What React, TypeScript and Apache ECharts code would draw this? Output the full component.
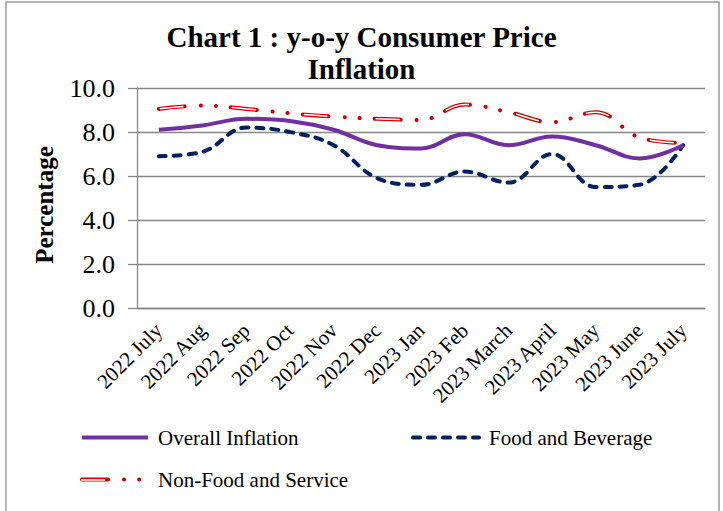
import React, { useEffect, useRef } from 'react';
import * as echarts from 'echarts';

const categories = ['2022 July', '2022 Aug', '2022 Sep', '2022 Oct', '2022 Nov', '2022 Dec', '2023 Jan', '2023 Feb', '2023 March', '2023 April', '2023 May', '2023 June', '2023 July'];
const overallInflation = [8.1, 8.3, 8.6, 8.5, 8.1, 7.4, 7.25, 7.9, 7.4, 7.8, 7.4, 6.8, 7.4];
const foodAndBeverage = [6.9, 7.1, 8.2, 8.0, 7.4, 5.9, 5.6, 6.2, 5.7, 7.0, 5.5, 5.6, 7.4];
const nonFoodAndService = [9.05, 9.2, 9.05, 8.85, 8.7, 8.6, 8.55, 9.25, 8.9, 8.45, 8.9, 7.75, 7.5];
const seriesNames = ['Overall Inflation', 'Food and Beverage', 'Non-Food and Service'];

const FONT = '"Liberation Serif", "Times New Roman", serif';

export default function App() {
  const ref = useRef<HTMLDivElement>(null);
  useEffect(() => {
    if (!ref.current) return;
    const chart = echarts.init(ref.current, null, { renderer: 'svg' });
    const legendBase = {
      orient: 'horizontal',
      itemWidth: 66,
      itemHeight: 16,
      itemStyle: { opacity: 0, borderWidth: 0 },
      lineStyle: { width: 4 },
      textStyle: { fontFamily: FONT, fontSize: 21, color: '#000', padding: [0, 0, 0, 5] },
      selectedMode: false,
    };
    chart.setOption({
      animation: false,
      backgroundColor: '#fff',
      title: {
        text: 'Chart 1 : y-o-y Consumer Price\nInflation',
        left: 'center',
        top: 16,
        textStyle: { fontFamily: FONT, fontSize: 29, fontWeight: 'bold', color: '#000', lineHeight: 32 },
      },
      graphic: [
        { type: 'rect', shape: { x: 6, y: 2, width: 713, height: 530 }, style: { fill: 'none', stroke: '#999', lineWidth: 1.5 }, silent: true },
        { type: 'line', shape: { x1: 81, y1: 480, x2: 105, y2: 480 }, style: { stroke: '#fff', lineWidth: 1.5 }, silent: true, z: 100 },
      ],
      legend: [
        { ...legendBase, left: 75, top: 422, data: [seriesNames[0]] },
        { ...legendBase, left: 406, top: 422, data: [seriesNames[1]] },
        { ...legendBase, left: 75, top: 464, data: [seriesNames[2]] },
      ],
      grid: { left: 137, right: 18, top: 88, height: 220, containLabel: false },
      xAxis: {
        type: 'category',
        data: categories,
        boundaryGap: true,
        axisLine: { show: true, lineStyle: { color: '#888', width: 1.3 } },
        axisTick: { show: false },
        axisLabel: { interval: 0, rotate: 45, fontFamily: FONT, fontSize: 21, color: '#000', margin: 19 },
        splitLine: { show: false },
      },
      yAxis: {
        type: 'value',
        min: 0,
        max: 10,
        interval: 2,
        name: 'Percentage',
        nameLocation: 'middle',
        nameGap: 80,
        nameRotate: 90,
        nameTextStyle: { fontFamily: FONT, fontSize: 25, fontWeight: 'bold', color: '#000', padding: [0, 14, 0, 0] },
        axisLine: { show: true, lineStyle: { color: '#888', width: 1.3 } },
        axisTick: { show: true, length: 9, lineStyle: { color: '#888', width: 1.3 } },
        axisLabel: { fontFamily: FONT, fontSize: 26, color: '#000', margin: 22, formatter: (v: number) => v.toFixed(1) },
        splitLine: { show: true, lineStyle: { color: '#888', width: 1.3 } },
      },
      series: [
        {
          name: seriesNames[2],
          type: 'line',
          data: nonFoodAndService,
          smooth: 0.4,
          showSymbol: false,
          symbol: 'none',
          z: 2,
          color: '#CC0000',
          lineStyle: { color: '#CC0000', width: 4, type: [26, 16, 0.1, 15, 0.1, 15], cap: 'round' },
        },
        {
          name: 'nf-core',
          type: 'line',
          data: nonFoodAndService,
          smooth: 0.4,
          showSymbol: false,
          symbol: 'none',
          silent: true,
          z: 3,
          lineStyle: { color: '#fff', width: 1.5, type: [0, 1, 24, 47.2], cap: 'butt' },
        },
        {
          name: seriesNames[1],
          type: 'line',
          data: foodAndBeverage,
          smooth: 0.4,
          showSymbol: false,
          symbol: 'none',
          z: 4,
          color: '#002060',
          lineStyle: { color: '#002060', width: 4, type: [7, 8], cap: 'round' },
        },
        {
          name: seriesNames[0],
          type: 'line',
          data: overallInflation,
          smooth: 0.4,
          showSymbol: false,
          symbol: 'none',
          z: 5,
          color: '#7030A0',
          lineStyle: { color: '#7030A0', width: 4 },
        },
      ],
    });
    return () => chart.dispose();
  }, []);
  return <div ref={ref} style={{ position: 'fixed', left: 0, top: 0, width: 723, height: 511 }} />;
}
